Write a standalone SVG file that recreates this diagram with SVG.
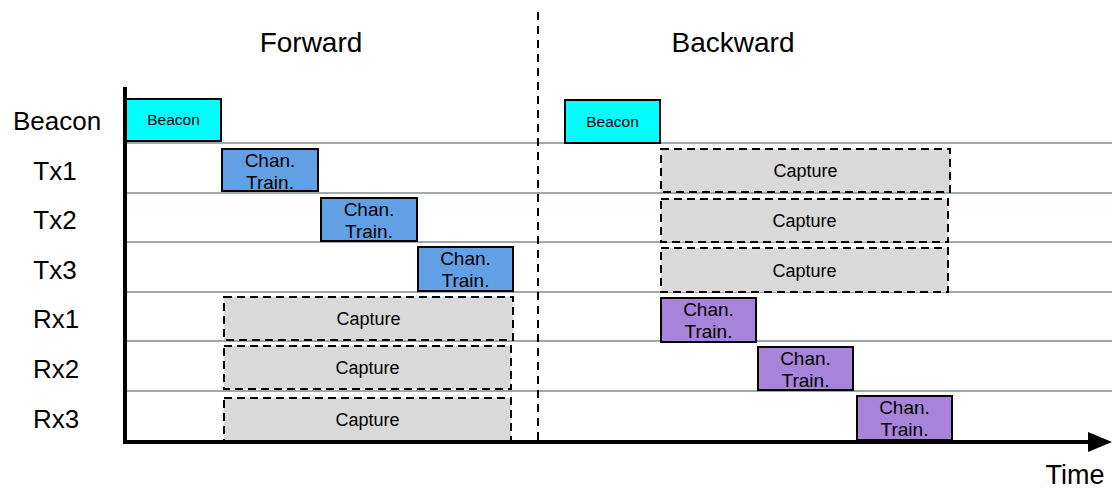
<svg xmlns="http://www.w3.org/2000/svg" width="1112" height="489" viewBox="0 0 1112 489">
<style>
text{font-family:"Liberation Sans",Arial,sans-serif;fill:#000}
.grid{stroke:#9eaaaa;stroke-width:2}
.box{stroke:#000;stroke-width:2}
.cap{fill:#d9d9d9;stroke:#000;stroke-width:2;stroke-dasharray:8,5}
.cyan{fill:#00ffff}
.blue{fill:#62a0e5}
.purple{fill:#a784d9}
.lbl{font-size:26px;text-anchor:middle}
.bt{font-size:19px;text-anchor:middle}
.ct{font-size:18px;text-anchor:middle}
.small{font-size:15.5px;text-anchor:middle}
</style>
<defs>
<marker id="arr" markerWidth="24" markerHeight="20" refX="0" refY="10" orient="auto" markerUnits="userSpaceOnUse" viewBox="0 0 24 20">
<path d="M0,0 L24,10 L0,20 z" fill="#000"/>
</marker>
</defs>
<rect width="1112" height="489" fill="#fff"/>
<g id="grid">
<line class="grid" x1="125" y1="143" x2="1112" y2="143"/>
<line class="grid" x1="125" y1="193" x2="1112" y2="193"/>
<line class="grid" x1="125" y1="242" x2="1112" y2="242"/>
<line class="grid" x1="125" y1="292" x2="1112" y2="292"/>
<line class="grid" x1="125" y1="341" x2="1112" y2="341"/>
<line class="grid" x1="125" y1="391" x2="1112" y2="391"/>
</g>
<g id="headers">
<text x="311" y="52" font-size="28" text-anchor="middle">Forward</text>
<text x="733" y="52" font-size="28" text-anchor="middle">Backward</text>
</g>
<g id="row-labels">
<text class="lbl" x="57" y="130" font-size="29">Beacon</text>
<text class="lbl" x="55" y="180">Tx1</text>
<text class="lbl" x="55" y="229">Tx2</text>
<text class="lbl" x="55" y="279">Tx3</text>
<text class="lbl" x="56" y="328">Rx1</text>
<text class="lbl" x="56" y="378">Rx2</text>
<text class="lbl" x="56" y="428">Rx3</text>
</g>
<g id="fwd-beacon"><rect class="box cyan" x="126" y="99" width="95" height="42"/><text class="small" x="173.5" y="125">Beacon</text></g>
<g id="fwd-tx1"><rect class="box blue" x="222" y="149" width="96" height="42"/><text class="bt" x="270" y="167">Chan.</text><text class="bt" x="270" y="189">Train.</text></g>
<g id="fwd-tx2"><rect class="box blue" x="321" y="198" width="96" height="43"/><text class="bt" x="369" y="216">Chan.</text><text class="bt" x="369" y="238">Train.</text></g>
<g id="fwd-tx3"><rect class="box blue" x="418" y="247" width="95" height="44"/><text class="bt" x="465.5" y="265">Chan.</text><text class="bt" x="465.5" y="287">Train.</text></g>
<g id="fwd-rx1"><rect class="cap" x="224" y="297" width="289" height="43"/><text class="ct" x="368.5" y="325">Capture</text></g>
<g id="fwd-rx2"><rect class="cap" x="224" y="346" width="287" height="43"/><text class="ct" x="367.5" y="374">Capture</text></g>
<g id="fwd-rx3"><rect class="cap" x="224" y="398" width="287" height="43"/><text class="ct" x="367.5" y="426">Capture</text></g>
<g id="bwd-beacon"><rect class="box cyan" x="565" y="100" width="95" height="43"/><text class="small" x="612.5" y="127">Beacon</text></g>
<g id="bwd-tx1"><rect class="cap" x="661" y="149" width="289" height="43"/><text class="ct" x="805.5" y="177">Capture</text></g>
<g id="bwd-tx2"><rect class="cap" x="661" y="199" width="287" height="43"/><text class="ct" x="804.5" y="227">Capture</text></g>
<g id="bwd-tx3"><rect class="cap" x="661" y="248" width="287" height="44"/><text class="ct" x="804.5" y="277">Capture</text></g>
<g id="bwd-rx1"><rect class="box purple" x="661" y="298" width="95" height="44"/><text class="bt" x="708.5" y="316">Chan.</text><text class="bt" x="708.5" y="338">Train.</text></g>
<g id="bwd-rx2"><rect class="box purple" x="758" y="347" width="95" height="43"/><text class="bt" x="805.5" y="365">Chan.</text><text class="bt" x="805.5" y="387">Train.</text></g>
<g id="bwd-rx3"><rect class="box purple" x="857" y="396" width="95" height="44"/><text class="bt" x="904.5" y="414">Chan.</text><text class="bt" x="904.5" y="436">Train.</text></g>
<g id="connectors">
<line x1="538" y1="12" x2="538" y2="441" stroke="#000" stroke-width="2" stroke-dasharray="8,6"/>
<line x1="125" y1="87" x2="125" y2="443" stroke="#000" stroke-width="4"/>
<line x1="123" y1="442" x2="1088" y2="442" stroke="#000" stroke-width="4" marker-end="url(#arr)"/>
</g>
<g id="time-label"><text x="1075" y="484" font-size="27" text-anchor="middle">Time</text></g>
</svg>
